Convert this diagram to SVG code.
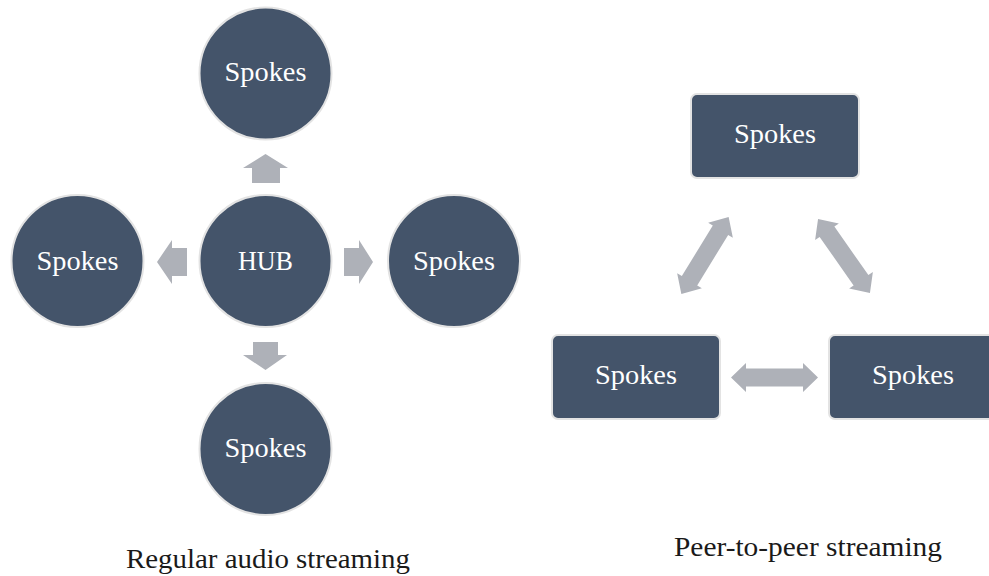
<svg xmlns="http://www.w3.org/2000/svg" width="989" height="576" viewBox="0 0 989 576">
<style>
.n{fill:#44546A;stroke:#E3E3E3;stroke-width:2}
.t{fill:#FFFFFF;font-family:"Liberation Serif","DejaVu Serif",serif;font-size:27px;text-anchor:middle}
.a{fill:#AEB1B8}
.c{fill:#1A1A1A;font-family:"Liberation Serif","DejaVu Serif",serif;font-size:27px;text-anchor:middle}
</style>
<defs>
<polygon id="dbl" points="-43.5,0 -28.5,-14.5 -28.5,-9 28.5,-9 28.5,-14.5 43.5,0 28.5,14.5 28.5,9 -28.5,9 -28.5,14.5"/>
</defs>
<rect width="989" height="576" fill="#FFFFFF"/>
<g id="connectors">
<polygon class="a" points="265.5,154 288,168 280,168 280,183 252,183 252,168 243,168"/>
<polygon class="a" points="157,262 172,240 172,248 187,248 187,276 172,276 172,284"/>
<polygon class="a" points="373,262 359,240 359,248 344,248 344,276 359,276 359,284"/>
<polygon class="a" points="265.5,370 243,355 253,355 253,342 278,342 278,355 287,355"/>
<use href="#dbl" class="a" transform="translate(774.5,377.5)"/>
<use href="#dbl" class="a" transform="translate(705,255.5) rotate(-58.5) scale(1.04,1)"/>
<use href="#dbl" class="a" transform="translate(844,256) rotate(55) scale(1.04,1)"/>
</g>
<g id="spokes-top"><circle class="n" cx="265.5" cy="73.5" r="66"/><text class="t" x="265.5" y="81" textLength="82" lengthAdjust="spacingAndGlyphs">Spokes</text></g>
<g id="hub"><circle class="n" cx="265.5" cy="261" r="66"/><text class="t" x="265.5" y="270" textLength="55" lengthAdjust="spacingAndGlyphs">HUB</text></g>
<g id="spokes-left"><circle class="n" cx="77.5" cy="261" r="66"/><text class="t" x="77.5" y="270" textLength="82" lengthAdjust="spacingAndGlyphs">Spokes</text></g>
<g id="spokes-right"><circle class="n" cx="454" cy="261" r="66"/><text class="t" x="454" y="270" textLength="82" lengthAdjust="spacingAndGlyphs">Spokes</text></g>
<g id="spokes-bottom"><circle class="n" cx="265.5" cy="449" r="66"/><text class="t" x="265.5" y="457" textLength="82" lengthAdjust="spacingAndGlyphs">Spokes</text></g>
<g id="p2p-top"><rect class="n" x="691" y="94" width="168" height="84" rx="6"/><text class="t" x="775" y="143" textLength="82" lengthAdjust="spacingAndGlyphs">Spokes</text></g>
<g id="p2p-left"><rect class="n" x="552" y="335" width="168" height="84" rx="6"/><text class="t" x="636" y="384" textLength="82" lengthAdjust="spacingAndGlyphs">Spokes</text></g>
<g id="p2p-right"><rect class="n" x="829" y="335" width="168" height="84" rx="6"/><text class="t" x="913" y="384" textLength="82" lengthAdjust="spacingAndGlyphs">Spokes</text></g>
<text class="c" x="268" y="568" textLength="284" lengthAdjust="spacingAndGlyphs">Regular audio streaming</text>
<text class="c" x="808" y="556" textLength="268" lengthAdjust="spacingAndGlyphs">Peer-to-peer streaming</text>
</svg>
